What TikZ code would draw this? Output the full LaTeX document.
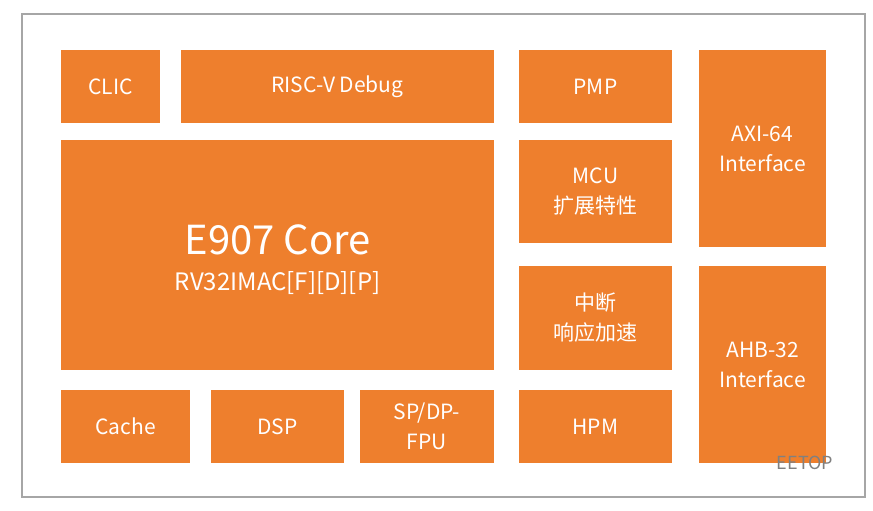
\documentclass[tikz,border=0pt]{standalone}
\usepackage{fontspec}
\setmainfont{Noto Sans CJK SC}
\definecolor{org}{HTML}{EE7F2D}
\begin{document}
\begin{tikzpicture}[x=1pt,y=-1pt,
  blk/.style={fill=org,draw=none,text=white,font=\fontsize{21}{30}\selectfont,align=center,inner sep=0pt},
]
\useasboundingbox (0,0) rectangle (873,511);
\fill[white] (0,0) rectangle (873,511);
\draw[gray!70,line width=1.5pt] (22,14) rectangle (865,497);
\newcommand\blkbox[6]{\fill[org] (#2,#3) rectangle (#4,#5); \node[blk] (#1) at ({(#2+#4)/2},{(#3+#5)/2}) {#6};}
\blkbox{clic}{61}{50}{160}{123}{CLIC}
\blkbox{dbg}{181}{50}{494}{123}{RISC-V Debug}
\fill[org] (61,140) rectangle (494,370);
\node[blk,font=\fontsize{40}{44}\selectfont] (core) at (277.5,240) {E907 Core};
\node[blk,font=\fontsize{24}{28}\selectfont] (isa) at (277.5,283) {RV32IMAC[F][D][P]};
\blkbox{cache}{61}{390}{190}{463}{Cache}
\blkbox{dsp}{211}{390}{344}{463}{DSP}
\blkbox{fpu}{360}{390}{494}{463}{SP/DP-\\FPU}
\blkbox{pmp}{519}{50}{672}{123}{PMP}
\blkbox{mcu}{519}{140}{672}{243}{MCU\\扩展特性}
\blkbox{irq}{519}{266}{672}{370}{中断\\响应加速}
\blkbox{hpm}{519}{390}{672}{463}{HPM}
\blkbox{axi}{699}{50}{826}{247}{AXI-64\\Interface}
\blkbox{ahb}{699}{266}{826}{463}{AHB-32\\Interface}
\node[text=gray,font=\fontsize{18}{20}\selectfont,inner sep=0pt] (wm) at (805,463) {EETOP};
\end{tikzpicture}
\end{document}
